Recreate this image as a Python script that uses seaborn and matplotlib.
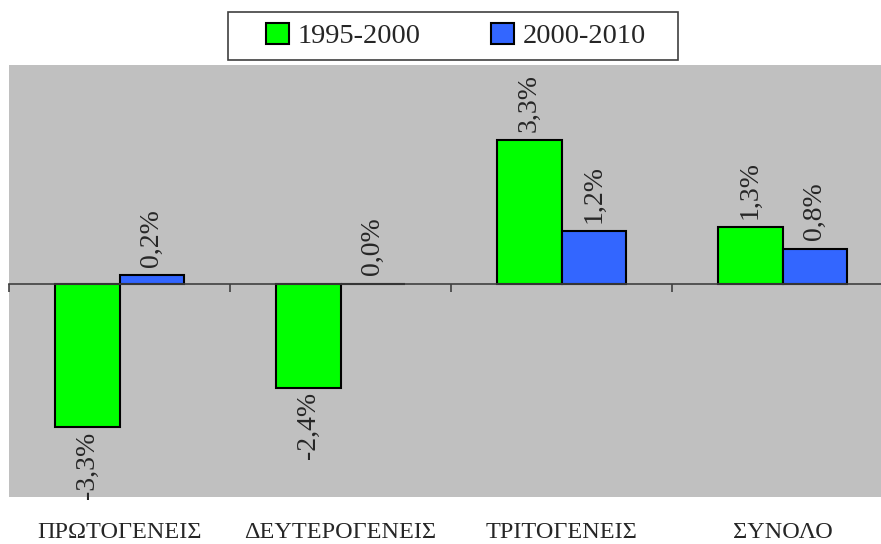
import pandas as pd
import seaborn as sns
import matplotlib.pyplot as plt
from matplotlib.transforms import blended_transform_factory
from matplotlib.patches import Patch, Rectangle

categories = ['ΠΡΩΤΟΓΕΝΕΙΣ', 'ΔΕΥΤΕΡΟΓΕΝΕΙΣ', 'ΤΡΙΤΟΓΕΝΕΙΣ', 'ΣΥΝΟΛΟ']
periods = ['1995-2000', '2000-2010']
values_1995_2000 = [-3.3, -2.4, 3.3, 1.3]
values_2000_2010 = [0.2, 0.0, 1.2, 0.8]
colors = ['#00FF00', '#3366FF']

df = pd.DataFrame({
    'category': categories * 2,
    'period': [periods[0]] * 4 + [periods[1]] * 4,
    'value': values_1995_2000 + values_2000_2010,
})

sns.set_style('white')
plt.rcParams['font.family'] = ['Liberation Serif', 'DejaVu Serif']

W, H = 881, 544
fig = plt.figure(figsize=(W / 100, H / 100), dpi=100)
ax = fig.add_axes([9 / W, 1 - 497 / H, 872 / W, (497 - 65) / H])
ax.set_facecolor('#C0C0C0')

sns.barplot(data=df, x='category', y='value', hue='period', order=categories,
            hue_order=periods, palette=colors, width=0.58, edgecolor='black',
            linewidth=1.5, saturation=1, legend=False, ax=ax)

ax.set_xlim(-0.5, -0.5 + 872 / 221)
ax.set_ylim(-4.9, 5.02)

for s in ['top', 'right', 'left']:
    ax.spines[s].set_visible(False)
ax.spines['bottom'].set_position(('data', 0))
ax.spines['bottom'].set_color('#404040')
ax.spines['bottom'].set_linewidth(1.2)
ax.set_xticks([-0.5, 0.5, 1.5, 2.5])
ax.set_xticklabels([])
ax.tick_params(axis='x', direction='out', length=6, width=1.2, color='#404040', bottom=True)
ax.set_yticks([])
ax.set_xlabel('')
ax.set_ylabel('')

# value labels, rotated
for bars, vals in zip(ax.containers, [values_1995_2000, values_2000_2010]):
    for bar, v in zip(bars, vals):
        xc = bar.get_x() + bar.get_width() / 2
        txt = f'{v:.1f}%'.replace('.', ',')
        if v < 0:
            ax.annotate(txt, (xc, v), xytext=(0, -3), textcoords='offset points',
                        rotation=90, ha='center', va='top', fontsize=20)
        else:
            ax.annotate(txt, (xc, v), xytext=(0, 6), textcoords='offset points',
                        rotation=90, ha='center', va='bottom', fontsize=20)

# category labels below the plot area
trans = blended_transform_factory(ax.transData, fig.transFigure)
for i, c in enumerate(categories):
    ax.text(i, 1 - 533 / H, c, transform=trans, ha='center', va='center',
            fontsize=17.5)

# legend box
fig.patches.append(Rectangle((228 / W, 1 - 60 / H), 450 / W, 48 / H,
                             transform=fig.transFigure, facecolor='white',
                             edgecolor='#404040', linewidth=1.2))
handles = [Patch(facecolor=col, edgecolor='black', linewidth=1.5) for col in colors]
fig.legend(handles, periods, loc='center', bbox_to_anchor=(456 / W, 1 - 36 / H),
           ncol=2, fontsize=20.5, frameon=False,
           handlelength=0.8, handleheight=0.8, handletextpad=0.3,
           columnspacing=2.5)

fig.savefig('out.png', dpi=100)
